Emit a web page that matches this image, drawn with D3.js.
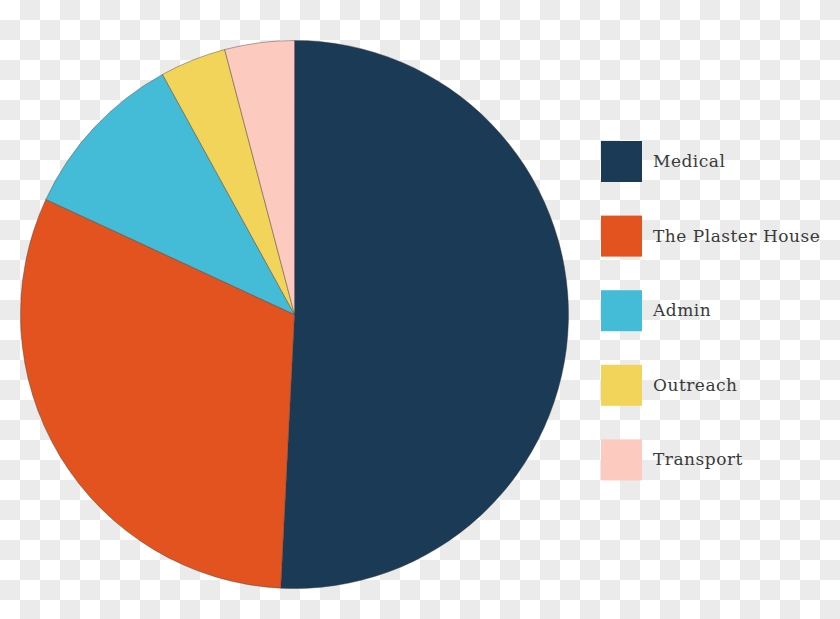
<!DOCTYPE html>
<html>
<head>
<meta charset="utf-8">
<script src="https://cdn.jsdelivr.net/npm/d3@7"></script>
<style>
  html, body { margin: 0; padding: 0; background: #fff; }
  svg { display: block; }
</style>
</head>
<body>
<div id="chart"></div>
<script>
// slice data (percent)
const categories = ["Medical", "The Plaster House", "Admin", "Outreach", "Transport"];
const values = [50.8, 31.1, 10.1, 3.9, 4.1];
const colors = ["#1b3a56", "#e3531f", "#45bcd7", "#f2d45b", "#fdcabf"];

const width = 840, height = 619;

const svg = d3.select("#chart").append("svg")
    .attr("width", width)
    .attr("height", height);

// transparency checkerboard behind the chart
const cell = 20;
const cells = [];
for (let r = 0; r < Math.ceil(height / cell); r++) {
    for (let c = 0; c < Math.ceil(width / cell); c++) {
        if ((r + c) % 2 === 1) cells.push([c, r]);
    }
}
svg.append("g")
    .selectAll("rect")
    .data(cells)
    .join("rect")
    .attr("x", d => d[0] * cell)
    .attr("y", d => d[1] * cell)
    .attr("width", cell)
    .attr("height", cell)
    .attr("fill", "#ebebeb");

const data = categories.map((name, i) => ({ name, value: values[i], color: colors[i] }));

const pie = d3.pie()
    .sort(null)
    .value(d => d.value);

const radius = 274;
const arc = d3.arc()
    .innerRadius(0)
    .outerRadius(radius);

const g = svg.append("g")
    .attr("transform", "translate(294.5,314.5)");

g.selectAll("path")
    .data(pie(data))
    .join("path")
    .attr("d", arc)
    .attr("fill", d => d.data.color)
    .attr("stroke", "rgba(70,60,55,0.55)")
    .attr("stroke-width", 0.8);

// legend
const legend = svg.append("g")
    .attr("transform", "translate(601,141)");

const item = legend.selectAll("g")
    .data(data)
    .join("g")
    .attr("transform", (d, i) => `translate(0,${i * 74.6})`);

item.append("rect")
    .attr("width", 41)
    .attr("height", 41)
    .attr("fill", d => d.color);

item.append("text")
    .attr("x", 52)
    .attr("y", 26)
    .attr("fill", "#3a3a3a")
    .style("font-family", "'DejaVu Serif', serif")
    .style("font-size", "17px")
    .style("letter-spacing", "0.5px")
    .text(d => d.name);
</script>
</body>
</html>
